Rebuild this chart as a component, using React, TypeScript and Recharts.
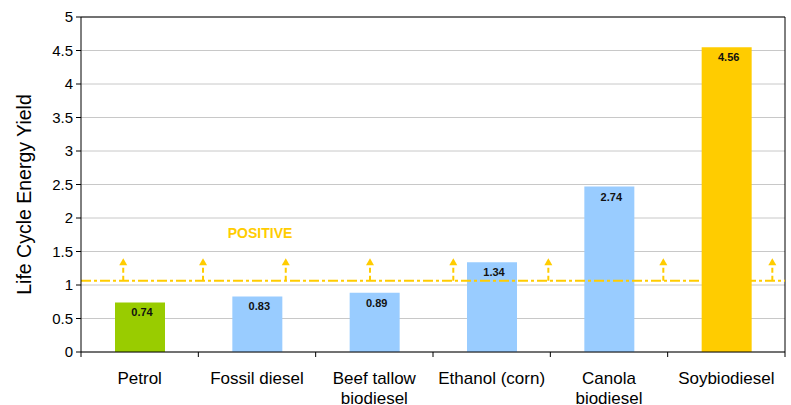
import React from 'react';
import { ComposedChart, Bar, Cell, XAxis, YAxis, CartesianGrid, ReferenceLine, ReferenceDot, LabelList } from 'recharts';

const categories = ['Petrol', 'Fossil diesel', 'Beef tallow\nbiodiesel', 'Ethanol (corn)', 'Canola\nbiodiesel', 'Soybiodiesel'];
const values = [0.74, 0.83, 0.885, 1.34, 2.47, 4.55];
const valueLabels = ['0.74', '0.83', '0.89', '1.34', '2.74', '4.56'];
const barColors = ['#99CC00', '#99CCFF', '#99CCFF', '#99CCFF', '#99CCFF', '#FFCC00'];
const yTicks = [0, 0.5, 1, 1.5, 2, 2.5, 3, 3.5, 4, 4.5, 5];
const thresholdValue = 1.065;
const arrowPositions = [0.36, 1.04, 1.745, 2.463, 3.173, 3.983, 4.963, 5.892];
const arrowTop = 1.3;
const arrowTip = 1.4;
const positiveText = 'POSITIVE';
const positivePos = { x: 1.526, y: 1.772 };
const yAxisTitle = 'Life Cycle Energy Yield';

const data = categories.map((c, i) => ({ pos: i + 0.5, name: c, value: values[i], label: valueLabels[i], color: barColors[i] }));
// ticks: integers = category boundaries (tick marks), halves = category labels
const xTicks: number[] = [];
for (let i = 0; i <= categories.length; i++) {
  xTicks.push(i);
  if (i < categories.length) xTicks.push(i + 0.5);
}

const FONT = "Arial, 'Liberation Sans', sans-serif";
const GOLD = '#FFCC00';

const CategoryTick = (props: any) => {
  const { x, y, payload } = props;
  const v = Number(payload.value);
  if (Number.isInteger(v)) {
    return <line x1={x} x2={x} y1={y} y2={y + 5} stroke="#000" strokeWidth={1} />;
  }
  const idx = Math.floor(v);
  const lines = (categories[idx] || '').split('\n');
  return (
    <g>
      {lines.map((l: string, i: number) => (
        <text key={i} x={x} y={y + 32 + i * 20} textAnchor="middle" fontFamily={FONT} fontSize={17} fill="#000">
          {l}
        </text>
      ))}
    </g>
  );
};

const BarValueLabel = (props: any) => {
  const { x, y, width, index } = props;
  return (
    <text x={x + width / 2 + 2} y={y + 14} textAnchor="middle" fontFamily={FONT} fontSize={11} fontWeight="bold" fill="#111">
      {valueLabels[index]}
    </text>
  );
};

const ArrowHead = (props: any) => {
  const { cx, cy } = props;
  return <polygon points={`${cx},${cy} ${cx - 4},${cy + 7} ${cx + 4},${cy + 7}`} fill={GOLD} />;
};

const PositiveText = (props: any) => {
  const { cx, cy } = props;
  return (
    <text x={cx} y={cy} textAnchor="middle" dominantBaseline="central" fontFamily={FONT} fontSize={14} fontWeight="bold" fill={GOLD}>
      {positiveText}
    </text>
  );
};

const YTitle = (props: any) => {
  const vb = props.viewBox || { x: 0, y: 17, width: 81, height: 335 };
  const cx = vb.x + 24;
  const cy = vb.y + vb.height / 2 + 10;
  return (
    <text x={cx} y={cy} transform={`rotate(-90, ${cx}, ${cy})`} textAnchor="middle" dominantBaseline="central" fontFamily={FONT} fontSize={19.5} fill="#000">
      {yAxisTitle}
    </text>
  );
};

export default function App() {
  return (
    <div style={{ position: 'absolute', left: 0, top: 0, background: '#fff' }}>
      <ComposedChart width={791} height={405} data={data} margin={{ top: 17, right: 6, bottom: 0, left: 0 }}>
        <CartesianGrid horizontal vertical={false} stroke="#c8c8c8" />
        <XAxis
          dataKey="pos"
          type="number"
          domain={[0, categories.length]}
          allowDataOverflow
          ticks={xTicks}
          height={53}
          axisLine={{ stroke: '#000' }}
          tickLine={false}
          tickSize={0}
          tickMargin={0}
          interval={0}
          tick={<CategoryTick />}
        />
        <YAxis
          domain={[0, 5]}
          allowDataOverflow
          ticks={yTicks}
          width={81}
          tickSize={5}
          tickMargin={3}
          axisLine={{ stroke: '#000' }}
          tickLine={{ stroke: '#000' }}
          tick={{ fontFamily: FONT, fontSize: 15, fill: '#000' }}
          interval={0}
          label={<YTitle />}
        />
        <ReferenceLine y={5} stroke="#000" />
        <ReferenceLine x={categories.length} stroke="#000" />
        <Bar dataKey="value" barSize={50} isAnimationActive={false}>
          {data.map((d, i) => (
            <Cell key={i} fill={d.color} />
          ))}
          <LabelList dataKey="label" content={<BarValueLabel />} />
        </Bar>
        <ReferenceLine y={thresholdValue} stroke={GOLD} strokeWidth={2} strokeDasharray="10 3 3 3" />
        {arrowPositions.map((p, i) => (
          <ReferenceLine
            key={'as' + i}
            segment={[{ x: p, y: thresholdValue }, { x: p, y: arrowTop }]}
            stroke={GOLD}
            strokeWidth={2}
            strokeDasharray="5 3"
          />
        ))}
        {arrowPositions.map((p, i) => (
          <ReferenceDot key={'ah' + i} x={p} y={arrowTip} r={4} shape={<ArrowHead />} />
        ))}
        <ReferenceDot x={positivePos.x} y={positivePos.y} r={1} shape={<PositiveText />} />
      </ComposedChart>
    </div>
  );
}
